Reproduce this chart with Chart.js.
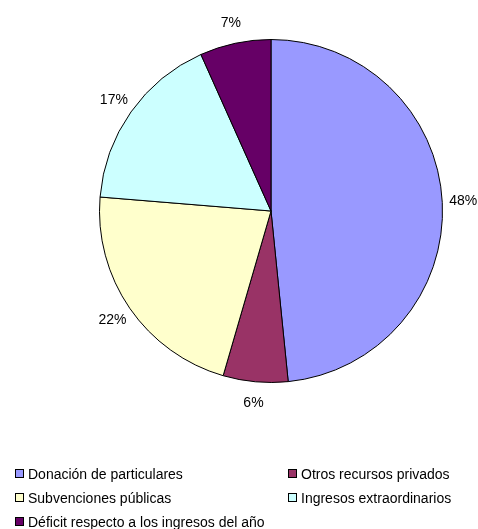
<!DOCTYPE html>
<html lang="es">
<head>
  <meta charset="UTF-8">
  <title>Ingresos</title>
  <style>
    body {
      margin: 0;
      padding: 0;
      background-color: #fff;
      font-family: 'Liberation Sans', Arial, sans-serif;
    }

    .wrap {
      position: relative;
      width: 478px;
      height: 529px;
    }

    .legend-item {
      position: absolute;
      font-size: 14px;
      color: #000;
      line-height: 16px;
      white-space: nowrap;
    }

    .legend-item .box {
      display: inline-block;
      width: 7px;
      height: 7px;
      border: 1px solid #000;
      margin-right: 4px;
      vertical-align: 1px;
    }
  </style>
  <script src="https://cdn.jsdelivr.net/npm/chart.js"></script>
</head>
<body>
  <div class="wrap">
    <canvas id="pieChart" width="478" height="529"></canvas>
    <div id="legend"></div>
  </div>

  <script>
    const categories = [
      'Donación de particulares',
      'Otros recursos privados',
      'Subvenciones públicas',
      'Ingresos extraordinarios',
      'Déficit respecto a los ingresos del año'
    ];
    const shares = [48.4, 6.1, 21.8, 17.0, 6.7];
    const sliceColors = ['#9999FF', '#993366', '#FFFFCC', '#CCFFFF', '#660066'];

    // percentage labels outside each slice
    const outsideLabels = {
      id: 'outsideLabels',
      afterDatasetsDraw(chart) {
        const ctx = chart.ctx;
        const total = shares.reduce((a, b) => a + b, 0);
        ctx.save();
        ctx.font = '14px "Liberation Sans", Arial, sans-serif';
        ctx.fillStyle = '#000';
        ctx.textAlign = 'center';
        ctx.textBaseline = 'middle';
        chart.getDatasetMeta(0).data.forEach((arc, i) => {
          const mid = (arc.startAngle + arc.endAngle) / 2;
          const r = arc.outerRadius + 21;
          const x = arc.x + Math.cos(mid) * r;
          const y = arc.y + Math.sin(mid) * r;
          ctx.fillText(Math.round(shares[i] / total * 100) + '%', x, y);
        });
        ctx.restore();
      }
    };

    new Chart(document.getElementById('pieChart'), {
      type: 'pie',
      data: {
        labels: categories,
        datasets: [{
          data: shares,
          backgroundColor: sliceColors,
          borderColor: '#000',
          borderWidth: 1
        }]
      },
      options: {
        responsive: false,
        animation: false,
        layout: {
          padding: { left: 99, top: 38, right: 35, bottom: 145 }
        },
        plugins: {
          legend: { display: false },
          tooltip: { enabled: false }
        }
      },
      plugins: [outsideLabels]
    });

    // legend in two columns, like the original
    const legendPos = [
      [15, 466], [288, 466],
      [15, 490], [288, 490],
      [15, 514]
    ];
    const legend = document.getElementById('legend');
    categories.forEach((name, i) => {
      const item = document.createElement('div');
      item.className = 'legend-item';
      item.style.left = legendPos[i][0] + 'px';
      item.style.top = legendPos[i][1] + 'px';
      item.innerHTML = '<span class="box" style="background:' + sliceColors[i] + '"></span>' + name;
      legend.appendChild(item);
    });
  </script>
</body>
</html>
